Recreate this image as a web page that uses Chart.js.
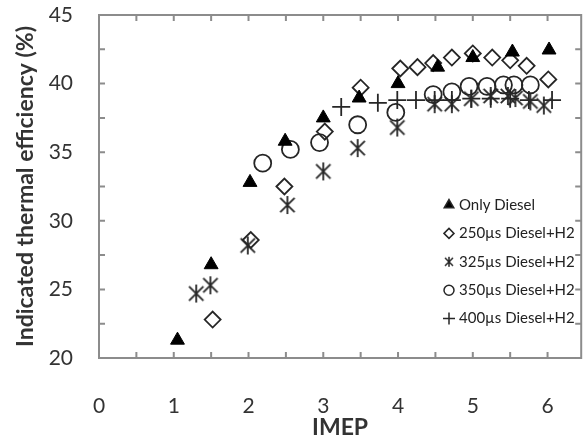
<!DOCTYPE html>
<html>
<head>
<meta charset="utf-8">
<script src="https://cdn.jsdelivr.net/npm/chart.js@4.4.1/dist/chart.umd.min.js"></script>
<style>
  body { margin: 0; background: #fff; overflow: hidden; }
  #wrap { position: relative; width: 592px; height: 441px; }
</style>
</head>
<body>
<div id="wrap"><canvas id="effChart"></canvas></div>
<script>
// data: IMEP (x) vs indicated thermal efficiency % (y)
var seriesNames = ['Only Diesel', '250\u00b5s Diesel+H2', '325\u00b5s Diesel+H2', '350\u00b5s Diesel+H2', '400\u00b5s Diesel+H2'];

var imepOnly = [1.05, 1.5, 2.02, 2.49, 3.0, 3.48, 4.0, 4.53, 5.0, 5.53, 6.02];
var effOnly  = [21.3, 26.8, 32.8, 35.8, 37.5, 38.95, 40.0, 41.2, 41.9, 42.3, 42.45];

var imep250 = [1.52, 2.03, 2.48, 3.02, 3.5, 4.03, 4.26, 4.47, 4.72, 5.0, 5.26, 5.5, 5.72, 6.01];
var eff250  = [22.8, 28.6, 32.5, 36.5, 39.7, 41.1, 41.2, 41.5, 41.9, 42.2, 41.9, 41.7, 41.3, 40.3];

var imep325 = [1.3, 1.49, 1.99, 2.52, 3.0, 3.46, 3.99, 4.49, 4.72, 4.98, 5.24, 5.47, 5.57, 5.77, 5.95];
var eff325  = [24.7, 25.3, 28.2, 31.15, 33.6, 35.3, 36.8, 38.5, 38.5, 38.9, 39.1, 39.1, 38.95, 38.7, 38.4];

var imep350 = [2.19, 2.56, 2.95, 3.46, 3.97, 4.47, 4.72, 4.95, 5.19, 5.41, 5.55, 5.77];
var eff350  = [34.2, 35.2, 35.7, 37.0, 37.9, 39.2, 39.4, 39.8, 39.8, 39.9, 39.9, 39.9];

var imep400 = [3.24, 3.73, 3.99, 4.24, 4.49, 4.72, 4.98, 5.24, 5.5, 5.75, 6.06];
var eff400  = [38.3, 38.6, 38.8, 38.8, 38.8, 38.8, 38.9, 38.9, 38.9, 38.8, 38.8];

var xTicks = [0, 1, 2, 3, 4, 5, 6];
var yTicks = [20, 25, 30, 35, 40, 45];

var FONT = 'Lato, "Open Sans", sans-serif';
var INK = '#262626';

function toPoints(xs, ys){
    return xs.map(function(x, i){ return {x: x, y: ys[i]}; });
}

// asterisk marker: X plus a vertical bar
function makeStar(size, lw){
    var c = document.createElement('canvas');
    c.width = size; c.height = size;
    var g = c.getContext('2d');
    var h = size / 2, r = size / 2 - 1;
    var d = r * 0.8;
    g.strokeStyle = INK;
    g.lineWidth = lw;
    g.beginPath();
    g.moveTo(h, h - r); g.lineTo(h, h + r);
    g.moveTo(h - d, h - d); g.lineTo(h + d, h + d);
    g.moveTo(h - d, h + d); g.lineTo(h + d, h - d);
    g.stroke();
    return c;
}
var starBig = makeStar(20, 1.8);
var starSmall = makeStar(12, 1.5);

// frame with inward ticks on all four sides
var framePlugin = {
    id: 'frame',
    beforeDatasetsDraw: function(chart){
        var ctx = chart.ctx, a = chart.chartArea;
        var xs = chart.scales.x, ys = chart.scales.y;
        var tl = 6;
        ctx.save();
        ctx.strokeStyle = '#8c8c8c';
        ctx.lineWidth = 2;
        ctx.strokeRect(a.left, a.top, a.right - a.left, a.bottom - a.top);
        ctx.beginPath();
        xs.ticks.forEach(function(t){
            var px = xs.getPixelForValue(t.value);
            ctx.moveTo(px, a.bottom); ctx.lineTo(px, a.bottom - tl);
            ctx.moveTo(px, a.top); ctx.lineTo(px, a.top + tl);
        });
        ys.ticks.forEach(function(t){
            var py = ys.getPixelForValue(t.value);
            ctx.moveTo(a.left, py); ctx.lineTo(a.left + tl, py);
            ctx.moveTo(a.right, py); ctx.lineTo(a.right - tl, py);
        });
        ctx.stroke();
        ctx.restore();
    },
    afterDraw: function(chart){
        // legend box inside the plot
        var ctx = chart.ctx;
        var mx = 449, tx = 459, y0 = 205, dy = 28.4;
        var styles = [
            {pointStyle: 'triangle', radius: 5.5, fill: true},
            {pointStyle: 'rectRot', radius: 5, fill: false},
            {pointStyle: starSmall, radius: 6, fill: false},
            {pointStyle: 'circle', radius: 5, fill: false},
            {pointStyle: 'cross', radius: 6, fill: false}
        ];
        ctx.save();
        ctx.font = '15px ' + FONT;
        ctx.textBaseline = 'middle';
        ctx.textAlign = 'left';
        seriesNames.forEach(function(name, i){
            var y = y0 + i * dy;
            var s = styles[i];
            ctx.fillStyle = s.fill ? '#000' : 'rgba(0,0,0,0)';
            ctx.strokeStyle = INK;
            ctx.lineWidth = 1.5;
            Chart.helpers.drawPoint(ctx, {pointStyle: s.pointStyle, radius: s.radius, rotation: 0, borderWidth: 1.5}, mx, y);
            ctx.fillStyle = '#222';
            ctx.fillText(name, tx, y);
        });
        ctx.restore();
    }
};

var ctx = document.getElementById('effChart');
var effChart = new Chart(ctx, {
    type: 'scatter',
    data: {
        datasets: [
            {label: seriesNames[0], data: toPoints(imepOnly, effOnly), pointStyle: 'triangle', pointRadius: 8,
             backgroundColor: '#000', borderColor: '#000', borderWidth: 1},
            {label: seriesNames[1], data: toPoints(imep250, eff250), pointStyle: 'rectRot', pointRadius: 8,
             backgroundColor: 'rgba(0,0,0,0)', borderColor: INK, borderWidth: 1.8},
            {label: seriesNames[2], data: toPoints(imep325, eff325), pointStyle: starBig, pointRadius: 9,
             backgroundColor: 'rgba(0,0,0,0)', borderColor: INK, borderWidth: 1.8},
            {label: seriesNames[3], data: toPoints(imep350, eff350), pointStyle: 'circle', pointRadius: 8.5,
             backgroundColor: 'rgba(0,0,0,0)', borderColor: INK, borderWidth: 1.8},
            {label: seriesNames[4], data: toPoints(imep400, eff400), pointStyle: 'cross', pointRadius: 9,
             backgroundColor: 'rgba(0,0,0,0)', borderColor: INK, borderWidth: 1.8}
        ]
    },
    options: {
        responsive: true,
        maintainAspectRatio: false,
        animation: false,
        events: [],
        layout: {padding: {top: 15, right: 2, left: 0, bottom: 0}},
        plugins: {legend: {display: false}, tooltip: {enabled: false}},
        scales: {
            x: {
                type: 'linear', min: 0, max: 6.45,
                afterBuildTicks: function(scale){
                    var t = [];
                    for (var i = 0; i <= 12; i++) t.push({value: i * 0.5});
                    scale.ticks = t;
                },
                afterFit: function(scale){
                    scale.height = 83;
                    scale.paddingLeft = 0; scale.paddingRight = 0;
                },
                grid: {display: false, drawTicks: false, tickLength: 0},
                border: {display: false},
                ticks: {
                    autoSkip: false, maxRotation: 0, padding: 36, color: '#333',
                    font: {family: FONT, size: 21},
                    callback: function(v){ return xTicks.indexOf(v) >= 0 ? v : ''; }
                },
                title: {display: true, text: 'IMEP', color: '#333',
                        font: {family: FONT, size: 23, weight: 'bold'}, padding: {top: 0, bottom: 0}}
            },
            y: {
                min: 20, max: 45,
                afterFit: function(scale){
                    scale.width = 99;
                    scale.paddingTop = 0; scale.paddingBottom = 0;
                },
                grid: {display: false, drawTicks: false, tickLength: 0},
                border: {display: false},
                ticks: {
                    stepSize: 2.5, autoSkip: false, padding: 26, color: '#333',
                    font: {family: FONT, size: 21},
                    callback: function(v){ return yTicks.indexOf(v) >= 0 ? v : ''; }
                },
                title: {display: true, text: 'Indicated thermal efficiency (%)', color: '#333',
                        font: {family: FONT, size: 23, weight: 'bold'}, padding: {top: 12, bottom: 0}}
            }
        }
    },
    plugins: [framePlugin]
});
</script>
</body>
</html>
